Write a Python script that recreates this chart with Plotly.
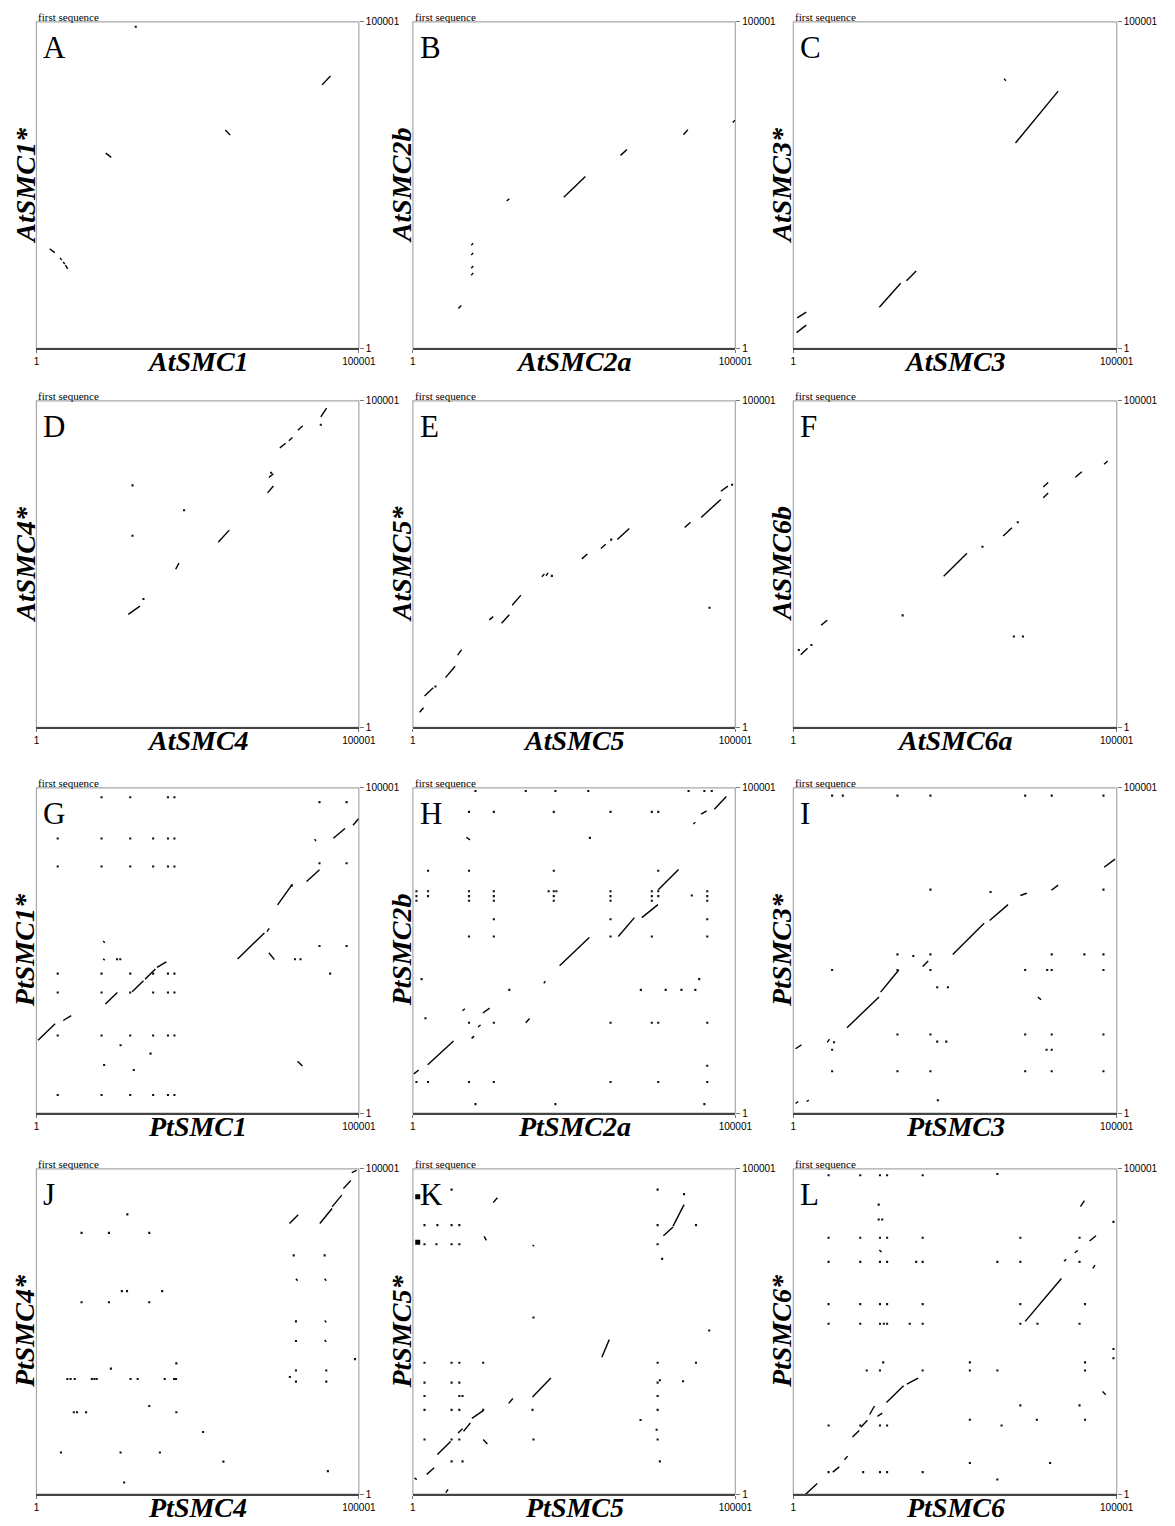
import plotly.graph_objects as go

# ---------------- data (positions in kb along each sequence, 0..100) ----------------
panel_letters = ["A", "B", "C", "D", "E", "F", "G", "H", "I", "J", "K", "L"]
x_titles = ["AtSMC1", "AtSMC2a", "AtSMC3", "AtSMC4", "AtSMC5", "AtSMC6a",
            "PtSMC1", "PtSMC2a", "PtSMC3", "PtSMC4", "PtSMC5", "PtSMC6"]
y_titles = ["AtSMC1*", "AtSMC2b", "AtSMC3*", "AtSMC4*", "AtSMC5*", "AtSMC6b",
            "PtSMC1*", "PtSMC2b", "PtSMC3*", "PtSMC4*", "PtSMC5*", "PtSMC6*"]
tick_vals = [0.001, 100.001]
tick_text = ["1", "100001"]

# match segments: (x0, y0, x1, y1)
A_segs = [(88.6, 80.7, 91.2, 83.4), (58.6, 66.9, 60.1, 65.3), (21.5, 59.8, 23.2, 58.5),
          (4.1, 30.5, 5.7, 29.3), (7.3, 27.7, 7.9, 27.0), (8.3, 26.5, 8.8, 25.8),
          (9.0, 25.5, 9.7, 24.3)]
A_dots = {98.5: [30.8]}

B_segs = [(99.2, 69.2, 99.9, 69.9), (83.9, 65.4, 85.3, 67.0), (64.4, 59.1, 66.4, 60.9),
          (46.8, 46.3, 53.5, 52.6), (29.1, 45.1, 29.9, 45.8), (18.1, 31.6, 18.7, 32.2),
          (18.1, 28.6, 18.7, 29.2), (18.1, 24.5, 18.7, 25.2), (18.1, 22.4, 18.7, 23.1),
          (14.1, 12.2, 15.0, 13.1)]
B_dots = {}

C_segs = [(68.7, 62.9, 81.9, 78.8), (65.2, 82.6, 65.7, 81.9), (26.6, 12.6, 33.2, 19.9),
          (35.0, 20.7, 38.0, 23.7), (1.2, 9.3, 4.0, 11.1), (1.0, 4.8, 4.0, 7.1)]
C_dots = {}

D_segs = [(88.2, 95.1, 90.0, 97.8), (81.1, 91.0, 82.6, 92.4), (78.3, 87.8, 79.4, 88.8),
          (75.5, 85.6, 77.3, 87.0), (72.1, 76.5, 73.5, 77.7), (71.7, 71.8, 73.5, 73.9),
          (56.4, 56.7, 59.8, 60.4), (43.2, 48.4, 44.2, 50.3), (28.5, 34.6, 32.1, 37.1)]
D_dots = {92.7: [88.2], 74.1: [29.8], 66.5: [45.8], 58.7: [29.8], 39.3: [33.2], 78.0: [72.8]}

E_segs = [(2.1, 4.6, 3.3, 6.0), (3.6, 9.6, 6.3, 12.1), (10.1, 15.2, 13.1, 18.7),
          (13.9, 22.1, 15.1, 23.8), (23.7, 32.9, 24.9, 33.9), (27.5, 31.9, 29.9, 34.5),
          (30.8, 37.4, 33.5, 40.5), (40.0, 46.1, 40.8, 47.0), (41.3, 46.4, 41.9, 47.3),
          (52.4, 51.6, 54.1, 53.1), (58.3, 54.8, 59.8, 56.1), (63.4, 57.5, 67.1, 60.9),
          (84.3, 61.2, 86.1, 62.8), (89.4, 64.3, 95.5, 69.8), (95.5, 72.3, 97.7, 73.9)]
E_dots = {46.4: [43.1], 57.5: [61.5], 36.6: [92.0], 74.3: [99.0], 12.5: [7.0]}

F_segs = [(96.1, 80.6, 97.2, 81.6), (87.2, 76.6, 89.2, 78.3), (77.3, 73.6, 78.8, 75.0),
          (77.3, 70.3, 78.8, 71.8), (64.9, 58.6, 67.6, 61.1), (46.5, 46.3, 53.7, 53.3),
          (8.6, 31.3, 10.5, 32.8), (2.3, 22.2, 4.4, 24.2)]
F_dots = {62.8: [69.4], 55.3: [58.5], 34.3: [33.8], 23.7: [1.7], 25.2: [5.6], 27.8: [68.2, 71.0]}

G_segs = [(0.5, 22.4, 5.8, 27.5), (8.3, 28.5, 10.8, 30.0), (21.4, 33.6, 25.1, 37.1),
          (29.7, 37.3, 33.2, 40.7), (33.7, 41.2, 36.9, 44.3), (37.4, 44.8, 40.3, 46.5),
          (62.4, 47.4, 70.7, 55.4), (71.5, 55.8, 72.2, 56.8), (74.8, 64.0, 79.4, 70.4),
          (83.8, 71.2, 87.8, 74.8), (92.1, 84.5, 95.7, 87.5), (98.2, 88.5, 99.9, 90.5),
          (72.1, 49.3, 73.8, 47.2), (81.0, 16.0, 82.5, 14.5), (20.7, 52.9, 21.2, 52.4),
          (20.7, 47.5, 21.2, 47.0), (86.3, 84.2, 86.7, 83.6)]
G_dots = {97.1: [20.2, 29.1, 40.8, 42.8], 95.6: [87.8, 96.2],
          84.4: [6.6, 20.2, 29.1, 36.2, 40.8, 42.8], 76.8: [87.8, 96.2],
          75.8: [6.6, 20.2, 29.1, 36.2, 40.8, 42.8], 69.9: [79.2], 51.4: [87.8, 96.2],
          47.3: [25.0, 26.0, 80.2, 81.9], 42.9: [6.6, 20.2, 29.1, 36.2, 40.8, 42.8, 91.1],
          37.1: [6.6, 20.2, 29.1, 36.2, 40.8, 42.8], 23.9: [6.6, 20.2, 29.1, 36.2, 40.8, 42.8],
          20.9: [26.1], 18.3: [35.4], 14.8: [21.0], 13.3: [30.2],
          5.6: [6.6, 20.2, 29.1, 36.2, 40.8, 42.8]}

H_segs = [(0.3, 12.1, 1.8, 13.3), (4.6, 14.9, 12.6, 22.2), (18.2, 23.0, 19.0, 23.7),
          (20.2, 26.5, 21.0, 27.1), (21.7, 30.8, 23.8, 32.3), (15.4, 31.5, 16.1, 32.1),
          (35.0, 27.8, 36.2, 29.1), (40.6, 39.9, 41.1, 40.6), (45.5, 45.3, 54.7, 54.0),
          (63.7, 54.3, 68.7, 60.1), (71.0, 60.1, 76.0, 64.1), (76.1, 68.7, 82.4, 74.9),
          (87.0, 88.9, 87.6, 89.4), (89.4, 91.9, 91.1, 92.9), (93.5, 93.4, 97.2, 97.3),
          (16.6, 84.8, 17.7, 84.0)]
H_dots = {99.0: [19.4, 35.0, 44.2, 54.4, 85.5, 90.4, 92.7],
          92.6: [17.4, 25.1, 43.7, 61.3, 74.1, 76.1],
          84.6: [54.9],
          74.5: [4.7, 17.4, 43.7, 76.1],
          68.2: [1.1, 4.7, 17.4, 25.1, 42.1, 43.7, 44.5, 61.3, 74.1, 76.1, 91.3],
          66.9: [86.5],
          66.7: [1.1, 4.7, 17.4, 25.1, 43.7, 61.3, 74.1, 76.1, 91.3],
          65.3: [1.1, 17.4, 25.1, 43.7, 61.3, 74.1, 91.3],
          59.6: [25.1, 61.3, 91.3],
          54.3: [17.4, 25.1, 61.3, 74.1, 91.3],
          41.2: [2.7, 88.8],
          37.9: [29.9, 70.7, 78.4, 83.3, 87.6],
          29.2: [3.9],
          27.8: [17.4, 25.1, 61.3, 74.1, 76.1, 91.3],
          14.6: [91.3],
          9.6: [1.1, 4.7, 17.4, 25.1, 61.3, 76.1, 91.3],
          2.8: [19.4, 44.2, 90.4]}

I_segs = [(0.7, 3.0, 1.5, 3.6), (4.1, 3.6, 4.8, 4.0), (0.7, 19.8, 2.5, 21.0),
          (10.5, 21.8, 11.2, 22.8), (16.6, 26.3, 26.5, 35.7), (27.0, 37.2, 32.6, 44.0),
          (40.0, 45.1, 41.7, 46.8), (49.3, 48.8, 59.0, 58.4), (60.7, 59.2, 66.4, 64.1),
          (70.2, 66.9, 72.2, 67.6), (79.8, 68.5, 81.9, 70.1), (96.1, 75.6, 99.5, 78.1),
          (75.6, 35.7, 76.6, 34.9)]
I_dots = {97.6: [12.0, 15.3, 32.2, 42.4, 71.7, 79.9, 95.9],
          68.7: [42.4, 95.9], 68.0: [61.0],
          48.8: [32.2, 42.4, 79.9, 90.0, 95.9], 48.3: [37.1],
          44.0: [12.0, 32.2, 42.4, 71.7, 78.5, 79.9, 95.9],
          38.7: [44.5, 47.8],
          24.2: [32.2, 42.4, 71.7, 79.9, 95.9],
          22.0: [44.5, 47.3], 21.8: [12.6],
          19.5: [12.0, 78.3, 79.9],
          12.9: [12.0, 32.2, 42.4, 71.7, 79.9, 95.9],
          4.0: [44.7]}

J_segs = [(78.5, 83.2, 81.2, 85.9), (87.9, 83.2, 91.7, 87.8), (91.7, 88.3, 94.7, 91.9),
          (95.2, 93.9, 97.5, 96.4), (97.8, 98.8, 99.3, 99.5), (80.5, 66.2, 81.0, 65.6),
          (89.4, 66.2, 89.9, 65.6), (89.4, 53.4, 89.9, 52.8), (89.4, 47.4, 89.9, 46.8)]
J_dots = {86.0: [28.2], 80.3: [14.0, 22.5, 35.0], 73.4: [79.8, 89.4],
          62.4: [26.5, 28.1, 39.0], 59.0: [14.0, 22.5, 35.0], 53.1: [80.5],
          47.1: [80.5], 41.5: [98.8], 40.2: [43.4], 38.6: [23.1],
          38.0: [80.5, 89.9], 36.0: [78.6],
          35.4: [9.6, 10.6, 11.9, 17.2, 18.0, 18.7, 29.2, 31.4, 39.8, 42.7, 43.3],
          34.6: [80.5, 89.9], 27.1: [35.0], 25.2: [11.6, 12.6, 15.4, 43.4],
          19.1: [51.7], 12.8: [7.6, 26.1, 38.3], 10.0: [58.0], 7.1: [90.4], 3.6: [27.2]}

K_segs = [(10.2, 0.5, 10.9, 1.5), (0.5, 5.0, 1.2, 4.5), (4.3, 6.1, 6.6, 8.1),
          (7.6, 12.2, 11.7, 16.2), (14.0, 18.8, 15.4, 20.1), (15.7, 19.3, 17.8, 21.9),
          (18.3, 23.3, 21.8, 25.7), (29.7, 27.9, 31.0, 29.4), (37.1, 29.9, 42.8, 35.7),
          (58.6, 42.1, 60.9, 47.5), (77.7, 79.4, 80.7, 82.1), (80.7, 82.4, 84.1, 89.0),
          (24.9, 89.6, 26.2, 91.1), (21.8, 16.8, 23.1, 15.4), (22.1, 79.2, 22.8, 78.0),
          (37.1, 76.6, 37.6, 76.2)]
K_blobs = {91.4: [1.5], 77.4: [1.5]}
K_dots = {93.6: [12.0, 75.9], 92.2: [84.1],
          82.7: [3.6, 7.6, 12.0, 14.4, 75.9, 87.8],
          76.8: [3.6, 7.3, 12.0, 14.4, 75.9], 72.3: [77.3],
          54.3: [37.4], 50.3: [91.9],
          40.4: [3.6, 12.0, 14.4, 21.8, 75.9, 87.8],
          35.0: [76.6], 34.7: [83.8],
          34.3: [3.6, 12.0, 14.4, 75.9],
          30.2: [3.6, 14.4, 15.4, 75.9],
          25.9: [3.6, 12.0, 14.4, 21.8, 37.1, 75.9],
          22.8: [70.6], 19.8: [75.6],
          16.8: [3.6, 12.0, 14.4, 37.4, 75.9],
          10.1: [12.0, 15.4, 76.6]}

L_segs = [(3.8, 0.0, 7.4, 3.3), (12.2, 6.8, 14.2, 8.4), (15.8, 10.6, 16.8, 11.7),
          (18.3, 17.6, 20.4, 19.6), (20.9, 20.6, 22.9, 22.7), (23.6, 24.5, 25.1, 27.1),
          (26.0, 23.9, 27.5, 24.9), (28.8, 28.2, 34.1, 33.3), (35.1, 33.8, 38.6, 35.7),
          (71.7, 53.1, 82.9, 66.3), (83.7, 71.6, 84.4, 72.2), (87.0, 74.2, 88.0, 74.9),
          (91.6, 77.8, 93.6, 79.4), (92.6, 69.4, 93.3, 70.4), (88.8, 88.4, 90.0, 90.2),
          (95.6, 31.6, 96.6, 30.6), (26.6, 75.0, 27.3, 74.4)]
L_dots = {98.4: [63.1], 98.0: [10.9, 20.7, 26.8, 29.0, 40.0], 89.0: [26.4],
          84.4: [26.4, 27.5], 83.7: [99.0],
          78.8: [10.9, 20.7, 26.8, 29.0, 40.0, 70.2, 88.5],
          71.4: [10.9, 20.7, 26.8, 29.0, 38.0, 40.0, 63.1, 70.2, 88.5],
          58.4: [10.9, 20.7, 26.8, 29.0, 40.0, 70.2, 90.2],
          52.4: [10.9, 20.7, 26.8, 28.0, 29.0, 36.0, 40.0, 70.2, 75.5, 88.5],
          44.6: [99.0], 41.8: [99.0],
          40.5: [27.8, 54.6, 90.2],
          38.0: [22.7, 26.8, 40.0, 54.6, 63.1, 90.2],
          27.3: [70.2, 88.5], 22.9: [54.6, 75.3, 90.2],
          21.1: [10.9, 20.7, 26.8, 29.0, 64.4],
          9.6: [54.6, 79.4], 6.8: [10.9, 21.6, 26.8, 29.0, 40.0], 4.5: [63.1]}

panel_segs = [A_segs, B_segs, C_segs, D_segs, E_segs, F_segs,
              G_segs, H_segs, I_segs, J_segs, K_segs, L_segs]
panel_dots = [A_dots, B_dots, C_dots, D_dots, E_dots, F_dots,
              G_dots, H_dots, I_dots, J_dots, K_dots, L_dots]
panel_blobs = [{}] * 10 + [K_blobs, {}]

# ---------------- layout geometry (pixels) ----------------
W, H = 1175, 1526
col_px = [(34, 362), (417, 745), (804, 1133)]
row_px = [(16, 345), (398, 727), (788, 1116), (1172, 1500)]


def PX(x):
    return x / W


def PY(y):
    return 1 - y / H


fig = go.Figure()
annotations = []
shapes = []
layout_axes = {}

for i in range(12):
    r, c = divmod(i, 3)
    l, rr = col_px[c]
    t, b = row_px[r]
    n = i + 1
    xa = "x" if n == 1 else f"x{n}"
    ya = "y" if n == 1 else f"y{n}"
    xkey = "xaxis" if n == 1 else f"xaxis{n}"
    ykey = "yaxis" if n == 1 else f"yaxis{n}"

    xs, ys = [], []
    for (x0, y0, x1, y1) in panel_segs[i]:
        xs += [x0, x1, None]
        ys += [y0, y1, None]
    fig.add_trace(go.Scatter(x=xs, y=ys, mode="lines", xaxis=xa, yaxis=ya,
                             line=dict(color="black", width=1.4), hoverinfo="skip",
                             showlegend=False))
    dx, dy = [], []
    for yv, xl in panel_dots[i].items():
        for xv in xl:
            dx.append(xv)
            dy.append(yv)
    if dx:
        fig.add_trace(go.Scatter(x=dx, y=dy, mode="markers", xaxis=xa, yaxis=ya,
                                 marker=dict(color="#111", size=2.1, symbol="square",
                                             line=dict(width=0)),
                                 hoverinfo="skip", showlegend=False))
    bx, by = [], []
    for yv, xl in panel_blobs[i].items():
        for xv in xl:
            bx.append(xv)
            by.append(yv)
    if bx:
        fig.add_trace(go.Scatter(x=bx, y=by, mode="markers", xaxis=xa, yaxis=ya,
                                 marker=dict(color="black", size=5, symbol="square",
                                             line=dict(width=0)),
                                 hoverinfo="skip", showlegend=False))

    layout_axes[xkey] = dict(domain=[PX(l), PX(rr)], anchor=ya, range=[0.001, 100.001],
                             showgrid=False, zeroline=False, showline=True,
                             linecolor="#444", linewidth=1.5,
                             ticks="outside", ticklen=3, tickcolor="#777", tickwidth=1,
                             tickvals=tick_vals, ticktext=tick_text,
                             tickfont=dict(family="Liberation Sans, Arial", size=10, color="black"))
    layout_axes[ykey] = dict(domain=[PY(b), PY(t)], anchor=xa, range=[0.001, 100.001],
                             side="right", showgrid=False, zeroline=False, showline=False,
                             ticks="outside", ticklen=4, tickcolor="#777", tickwidth=1,
                             tickvals=tick_vals, ticktext=tick_text,
                             tickfont=dict(family="Liberation Sans, Arial", size=10, color="black"))

    shapes.append(dict(type="rect", xref=f"{xa} domain", yref=f"{ya} domain",
                       x0=0, x1=1, y0=0, y1=1, line=dict(color="#a8a8a8", width=1.2),
                       layer="below"))

    annotations.append(dict(text=panel_letters[i], x=PX(l + 5), y=PY(t + 26),
                            xref="paper", yref="paper", xanchor="left", yanchor="middle",
                            showarrow=False,
                            font=dict(family="Liberation Serif, Times New Roman", size=31,
                                      color="black")))
    annotations.append(dict(text="first sequence", x=PX(l), y=PY(t + 3),
                            xref="paper", yref="paper", xanchor="left", yanchor="bottom",
                            showarrow=False,
                            font=dict(family="Liberation Serif, Times New Roman", size=11,
                                      color="black")))
    annotations.append(dict(text=f"<b><i>{x_titles[i]}</i></b>", x=PX((l + rr) / 2),
                            y=PY(b + 13), xref="paper", yref="paper", xanchor="center",
                            yanchor="middle", showarrow=False,
                            font=dict(family="Liberation Serif, Times New Roman", size=28,
                                      color="black")))
    annotations.append(dict(text=f"<b><i>{y_titles[i]}</i></b>", x=PX(l - 12),
                            y=PY((t + b) / 2), xref="paper", yref="paper", xanchor="center",
                            yanchor="middle", textangle=-90, showarrow=False,
                            font=dict(family="Liberation Serif, Times New Roman", size=28,
                                      color="black")))

fig.update_layout(width=W, height=H, autosize=False,
                  margin=dict(l=0, r=0, t=0, b=0),
                  paper_bgcolor="white", plot_bgcolor="white",
                  annotations=annotations, shapes=shapes, **layout_axes)

fig.write_html(
    "out.html",
    config={"displayModeBar": False, "responsive": False},
    post_script=("document.body.style.margin='0px';"
                 "document.body.style.overflow='hidden';"
                 "document.documentElement.style.overflow='hidden';"),
)
